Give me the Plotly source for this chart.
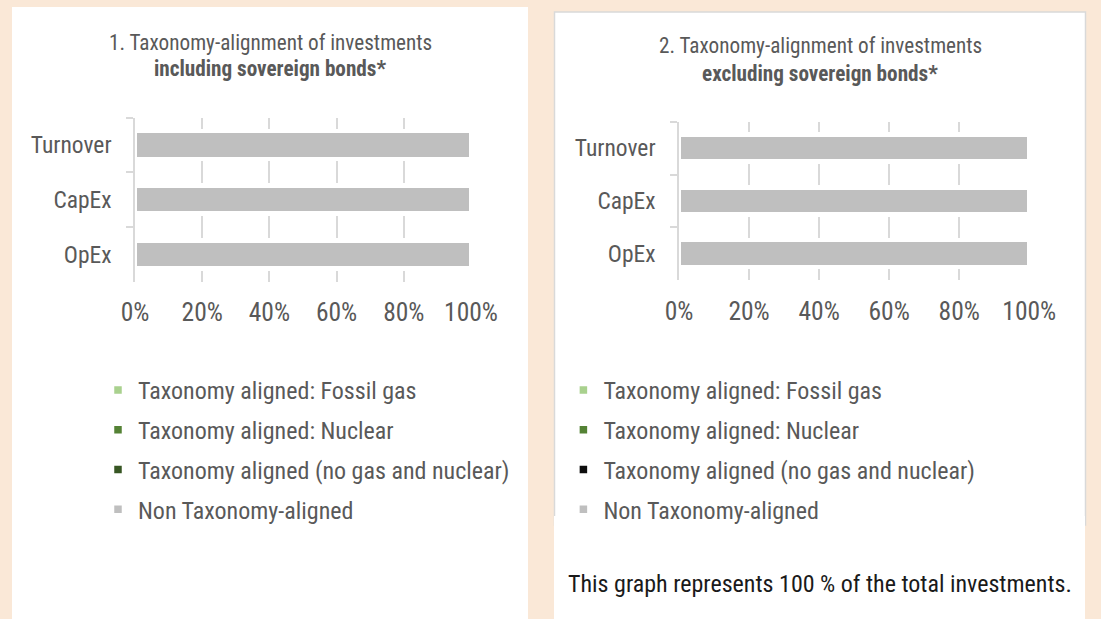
import plotly.graph_objects as go

W, H = 1101, 619

# ---------------- data ----------------
categories = ["Turnover", "CapEx", "OpEx"]
series_names = [
    "Taxonomy aligned: Fossil gas",
    "Taxonomy aligned: Nuclear",
    "Taxonomy aligned (no gas and nuclear)",
    "Non Taxonomy-aligned",
]
incl_fossil_gas = [0, 0, 0]
incl_nuclear = [0, 0, 0]
incl_no_gas_nuclear = [0, 0, 0]
incl_non_aligned = [100, 100, 100]
excl_fossil_gas = [0, 0, 0]
excl_nuclear = [0, 0, 0]
excl_no_gas_nuclear = [0, 0, 0]
excl_non_aligned = [100, 100, 100]
x_tick_values = [0, 20, 40, 60, 80, 100]
x_tick_labels = ["0%", "20%", "40%", "60%", "80%", "100%"]
title_1_line1 = "1. Taxonomy-alignment of investments"
title_1_line2 = "<b>including sovereign bonds*</b>"
title_2_line1 = "2. Taxonomy-alignment of investments"
title_2_line2 = "<b>excluding sovereign bonds*</b>"
footer = "This graph represents 100 % of the total investments."

# ---------------- style ----------------
FONT = "Roboto Condensed, Roboto, sans-serif"
TXT = "#595959"
GRID = "#d9d9d9"
PEACH = "#fae8d7"
colors_left = ["#a9d18e", "#548235", "#375623", "#bfbfbf"]
colors_right = ["#a9d18e", "#548235", "#0d0d0d", "#bfbfbf"]


def px(x):
    return x / W


def py(y):
    return 1 - y / H


fig = go.Figure()

left_vals = [incl_fossil_gas, incl_nuclear, incl_no_gas_nuclear, incl_non_aligned]
right_vals = [excl_fossil_gas, excl_nuclear, excl_no_gas_nuclear, excl_non_aligned]

for i, (name, vals) in enumerate(zip(series_names, left_vals)):
    fig.add_trace(go.Bar(
        y=categories, x=vals, orientation="h", name=name,
        marker=dict(color=colors_left[i], line=dict(color="white", width=4.5)),
        xaxis="x", yaxis="y", legend="legend", legendgroup="L%d" % i,
        hoverinfo="x+y+name",
    ))
for i, (name, vals) in enumerate(zip(series_names, right_vals)):
    fig.add_trace(go.Bar(
        y=categories, x=vals, orientation="h", name=name,
        marker=dict(color=colors_right[i], line=dict(color="white", width=4.5)),
        xaxis="x2", yaxis="y2", legend="legend2", legendgroup="R%d" % i,
        hoverinfo="x+y+name",
    ))

xa = dict(range=[0, 100], tickvals=x_tick_values, ticktext=x_tick_labels,
          showgrid=True, gridcolor=GRID, gridwidth=1.5, zeroline=False,
          showline=False, ticks="", ticklabelstandoff=13, automargin=False,
          tickfont=dict(family=FONT, size=25.5, color=TXT), fixedrange=True)
ya = dict(autorange="reversed", showgrid=False, zeroline=False,
          showline=True, linecolor=GRID, linewidth=1.5,
          ticks="outside", tickson="boundaries", ticklen=7, tickcolor=GRID,
          tickwidth=1.5, ticklabelstandoff=17, automargin=False,
          tickfont=dict(family=FONT, size=23.5, color=TXT), fixedrange=True)

legend_common = dict(xanchor="left", yanchor="top", orientation="v",
                     traceorder="grouped", tracegroupgap=5.5,
                     bgcolor="rgba(0,0,0,0)", borderwidth=0,
                     font=dict(family=FONT, size=24, color=TXT))

shapes = [
    dict(type="rect", xref="paper", yref="paper", layer="below",
         x0=px(12), x1=px(528), y0=py(619), y1=py(7),
         fillcolor="white", line=dict(width=0)),
    dict(type="rect", xref="paper", yref="paper", layer="below",
         x0=px(554.5), x1=px(1085.5), y0=py(525), y1=py(12),
         fillcolor="white", line=dict(color=GRID, width=1.5)),
    dict(type="rect", xref="paper", yref="paper", layer="below",
         x0=px(554), x1=px(1085), y0=py(619), y1=py(516),
         fillcolor="white", line=dict(width=0)),
]


def ann(text, x, y, size, color=TXT, xanchor="center"):
    return dict(text=text, x=px(x), y=py(y), xref="paper", yref="paper",
                xanchor=xanchor, yanchor="middle", showarrow=False,
                font=dict(family=FONT, size=size, color=color))


annotations = [
    ann(title_1_line1, 270, 42, 21.2),
    ann(title_1_line2, 270, 68, 21.2),
    ann(title_2_line1, 820, 45.6, 21.2),
    ann(title_2_line2, 820, 73.7, 21.2),
    ann(footer, 566, 584, 24, color="#1a1a1a", xanchor="left"),
]

fig.update_layout(
    width=W, height=H,
    margin=dict(l=0, r=0, t=0, b=0, pad=0, autoexpand=False),
    paper_bgcolor=PEACH, plot_bgcolor="rgba(0,0,0,0)",
    barmode="stack", bargap=0.49,
    showlegend=True,
    xaxis=dict(xa, domain=[px(135), px(471)], anchor="y"),
    yaxis=dict(ya, domain=[py(281.7), py(117.5)], anchor="x"),
    xaxis2=dict(xa, domain=[px(679), px(1029.3)], anchor="y2"),
    yaxis2=dict(ya, domain=[py(280), py(121.8)], anchor="x2"),
    legend=dict(legend_common, x=px(98), y=py(368)),
    legend2=dict(legend_common, x=px(563.4), y=py(368)),
    shapes=shapes,
    annotations=annotations,
)

fig.write_html("out.html", config={"responsive": False, "displayModeBar": False},
               post_script="document.body.style.margin='0';"
                           "document.body.style.overflow='hidden';")
